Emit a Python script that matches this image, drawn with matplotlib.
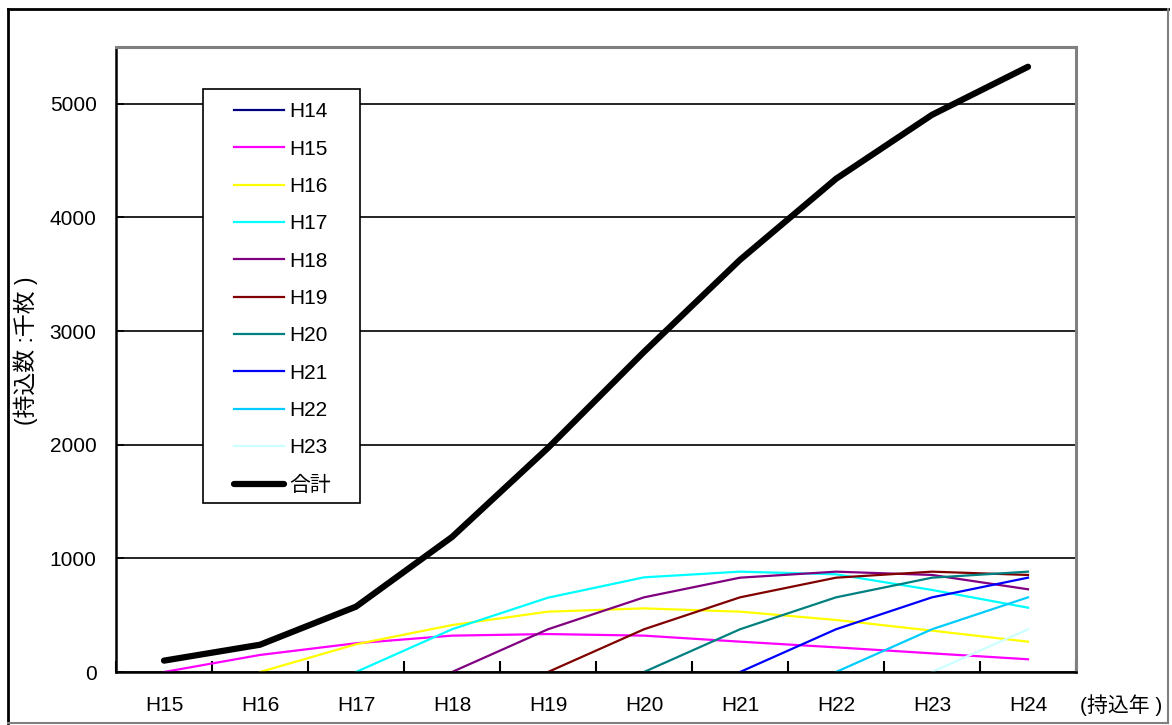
import numpy as np
import matplotlib
matplotlib.use("Agg")
import matplotlib.pyplot as plt
from matplotlib.patches import Rectangle
from matplotlib.lines import Line2D

plt.rcParams['font.family'] = ['Liberation Sans', 'Noto Sans CJK JP', 'DejaVu Sans']

nan = np.nan
years = ['H15', 'H16', 'H17', 'H18', 'H19', 'H20', 'H21', 'H22', 'H23', 'H24']

H14 = [nan] * 10
H15 = [0, 150, 253, 320, 334, 320, 267, 217, 164, 112]
H16 = [nan, 0, 244, 413, 531, 560, 531, 458, 364, 267]
H17 = [nan, nan, 0, 376, 654, 833, 883, 860, 722, 566]
H18 = [nan, nan, nan, 0, 376, 657, 830, 883, 854, 728]
H19 = [nan, nan, nan, nan, 0, 376, 657, 830, 883, 854]
H20 = [nan, nan, nan, nan, nan, 0, 376, 657, 830, 883]
H21 = [nan, nan, nan, nan, nan, nan, 0, 376, 657, 830]
H22 = [nan, nan, nan, nan, nan, nan, nan, 0, 376, 657]
H23 = [nan, nan, nan, nan, nan, nan, nan, nan, 0, 376]
total = [100, 240, 575, 1188, 1972, 2817, 3627, 4340, 4903, 5326]

series_names = ['H14', 'H15', 'H16', 'H17', 'H18', 'H19', 'H20', 'H21', 'H22', 'H23']
series_values = [H14, H15, H16, H17, H18, H19, H20, H21, H22, H23]
series_colors = ['#000080', '#FF00FF', '#FFFF00', '#00FFFF', '#800080',
                 '#800000', '#008080', '#0000FF', '#00CCFF', '#CCFFFF']
total_name = '合計'

W, H = 1172, 725
fig = plt.figure(figsize=(W / 100, H / 100), dpi=100)

def px(x0, y0, x1, y1):
    return [x0 / W, 1 - y1 / H, (x1 - x0) / W, (y1 - y0) / H]

ax = fig.add_axes(px(116, 47, 1076, 672))
x = np.arange(len(years))

handles = []
for name, vals, col in zip(series_names, series_values, series_colors):
    ln, = ax.plot(x, vals, color=col, lw=1.6, label=name)
    handles.append(ln)
tl, = ax.plot(x, total, color='black', lw=4.5, solid_capstyle='round',
              solid_joinstyle='round', label=total_name, zorder=5)
handles.append(tl)

ax.set_xlim(-0.5, len(years) - 0.5)
ax.set_ylim(0, 5500)
ax.set_yticks([0, 1000, 2000, 3000, 4000, 5000])
ax.yaxis.grid(True, color='black', lw=1.2)
ax.set_axisbelow(True)
ax.tick_params(axis='y', direction='in', length=6, width=1.2, pad=14, labelsize=15)

# boundaries get tick marks, category centres get the labels
ax.set_xticks(np.arange(len(years) + 1) - 0.5)
ax.set_xticklabels([])
ax.set_xticks(x, minor=True)
ax.set_xticklabels(years, minor=True)
ax.tick_params(axis='x', which='major', direction='in', length=8, width=1.5)
ax.tick_params(axis='x', which='minor', length=0, pad=17, labelsize=15)

for s in ['left', 'bottom']:
    ax.spines[s].set_color('black')
    ax.spines[s].set_linewidth(1.8)
for s in ['top', 'right']:
    ax.spines[s].set_color('#808080')
    ax.spines[s].set_linewidth(2.2)

fig.text(26 / W, 1 - 351 / H, '(持込数 :千枚 )', rotation=90,
         ha='center', va='center', fontsize=16.5)
fig.text(1080 / W, 1 - 705 / H, '(持込年 )', ha='left', va='center', fontsize=15)

# legend box
fig.patches.append(Rectangle((203 / W, 1 - 503 / H), 157 / W, 414 / H,
                             transform=fig.transFigure, fill=True,
                             facecolor='white', edgecolor='black', lw=1.2,
                             zorder=6))
leg = fig.legend(handles=handles, loc='upper left',
                 bbox_to_anchor=(224 / W, 1 - 92 / H), frameon=False,
                 fontsize=15, borderpad=0, handlelength=2.4,
                 handletextpad=0.25, labelspacing=0.88)
leg.set_zorder(7)

# outer frame
fig.add_artist(Line2D([8 / W, 8 / W], [1 - 9 / H, 1 - 723 / H], color='black', lw=2,
                      transform=fig.transFigure))
fig.add_artist(Line2D([8 / W, 1168 / W], [1 - 9 / H, 1 - 9 / H], color='black', lw=2,
                      transform=fig.transFigure))
fig.add_artist(Line2D([1168 / W, 1168 / W], [1 - 9 / H, 1 - 723 / H], color='#808080',
                      lw=1.5, transform=fig.transFigure))
fig.add_artist(Line2D([8 / W, 1168 / W], [1 - 723 / H, 1 - 723 / H], color='#808080',
                      lw=1.5, transform=fig.transFigure))

fig.savefig('out.png', dpi=100)
